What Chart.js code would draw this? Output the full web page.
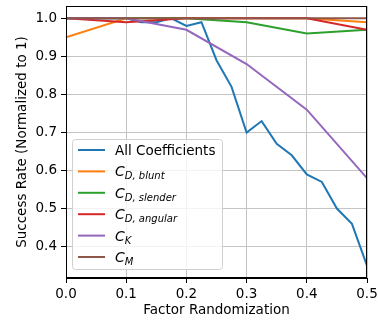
<!DOCTYPE html>
<html>
<head>
<meta charset="utf-8">
<script src="https://cdn.jsdelivr.net/npm/chart.js@4"></script>
<style>
  html, body { margin: 0; padding: 0; background: #fff; }
  #wrap { width: 378px; height: 325px; position: relative; }
</style>
</head>
<body>
<div id="wrap"><canvas id="successChart" width="378" height="325"></canvas></div>
<script>
// x positions
const fineSteps = [0, 0.025, 0.05, 0.075, 0.1, 0.125, 0.15, 0.175, 0.2, 0.225, 0.25,
                   0.275, 0.3, 0.325, 0.35, 0.375, 0.4, 0.425, 0.45, 0.475, 0.5];
const coarseSteps = [0, 0.1, 0.2, 0.3, 0.4, 0.5];

// series values
const allCoeffs = [1.0, 1.0, 1.0, 1.0, 1.0, 0.99, 0.99, 1.0, 0.98, 0.99, 0.89,
                   0.82, 0.70, 0.73, 0.67, 0.64, 0.59, 0.57, 0.50, 0.46, 0.35];
const cdBlunt = [0.95, 1.0, 1.0, 1.0, 1.0, 0.99];
const cdSlender = [1.0, 1.0, 1.0, 0.99, 0.96, 0.97];
const cdAngular = [1.0, 0.99, 1.0, 1.0, 1.0, 0.97];
const cK = [1.0, 1.0, 0.97, 0.88, 0.76, 0.58];
const cM = [1.0, 1.0, 1.0, 1.0, 1.0, 1.0];

const yTicks = [0.4, 0.5, 0.6, 0.7, 0.8, 0.9, 1.0];
const xTicks = [0, 0.1, 0.2, 0.3, 0.4, 0.5];

// legend entries: [main, subscript, italic]
const legendItems = [
    ['All Coefficients', '', false],
    ['C', 'D, blunt', true],
    ['C', 'D, slender', true],
    ['C', 'D, angular', true],
    ['C', 'K', true],
    ['C', 'M', true]
];
const colors = ['#1f77b4', '#ff7f0e', '#2ca02c', '#d62728', '#9467bd', '#8c564b'];

const toPoints = (xs, ys) => xs.map((x, i) => ({x: x, y: ys[i]}));

const seriesList = [
    toPoints(fineSteps, allCoeffs),
    toPoints(coarseSteps, cdBlunt),
    toPoints(coarseSteps, cdSlender),
    toPoints(coarseSteps, cdAngular),
    toPoints(coarseSteps, cK),
    toPoints(coarseSteps, cM)
];

const FONT = "'DejaVu Sans', sans-serif";
const FS = 13.5;

// drop the extra padding chart.js adds for edge labels
const noPad = (s) => {
    s.paddingTop = 0;
    s.paddingBottom = 0;
    s.paddingLeft = 0;
    s.paddingRight = 0;
};

// frame around plot + matplotlib style legend
const framePlugin = {
    id: 'frame',
    afterDatasetsDraw(chart) {
        const ctx = chart.ctx;
        const a = chart.chartArea;
        ctx.save();
        ctx.strokeStyle = '#000';
        ctx.lineWidth = 1;
        ctx.strokeRect(a.left + 0.5, a.top + 0.5, a.right - a.left - 1, a.bottom - a.top - 1);

        // legend box
        const bx = 72.5, by = 139.5, bw = 150, bh = 130, r = 3;
        ctx.beginPath();
        ctx.moveTo(bx + r, by);
        ctx.arcTo(bx + bw, by, bx + bw, by + bh, r);
        ctx.arcTo(bx + bw, by + bh, bx, by + bh, r);
        ctx.arcTo(bx, by + bh, bx, by, r);
        ctx.arcTo(bx, by, bx + bw, by, r);
        ctx.closePath();
        ctx.fillStyle = 'rgba(255,255,255,0.8)';
        ctx.fill();
        ctx.strokeStyle = '#d0d0d0';
        ctx.stroke();

        legendItems.forEach((item, i) => {
            const cy = 150 + i * 21.4;
            ctx.strokeStyle = colors[i];
            ctx.lineWidth = 2;
            ctx.beginPath();
            ctx.moveTo(78, cy);
            ctx.lineTo(105, cy);
            ctx.stroke();

            ctx.fillStyle = '#000';
            ctx.textBaseline = 'alphabetic';
            ctx.textAlign = 'left';
            if (!item[2]) {
                ctx.font = FS + 'px ' + FONT;
                ctx.fillText(item[0], 115, cy + 5);
            } else {
                ctx.font = 'italic 14px ' + FONT;
                ctx.fillText(item[0], 115, cy + 5);
                const w = ctx.measureText(item[0]).width;
                ctx.font = 'italic 10px ' + FONT;
                ctx.fillText(item[1], 115 + w, cy + 8);
            }
        });
        ctx.restore();
    }
};

const config = {
    type: 'scatter',
    data: {
        datasets: seriesList.map((pts, i) => ({
            data: pts,
            showLine: true,
            borderColor: colors[i],
            backgroundColor: colors[i],
            borderWidth: 2,
            pointRadius: 0,
            tension: 0,
            order: 5 - i
        }))
    },
    options: {
        responsive: false,
        animation: false,
        layout: {padding: {left: 0, right: 11, top: 6, bottom: 0}},
        plugins: {
            legend: {display: false},
            tooltip: {enabled: false}
        },
        scales: {
            x: {
                type: 'linear',
                min: 0,
                max: 0.5,
                afterBuildTicks: (s) => { s.ticks = xTicks.map(v => ({value: v})); },
                afterFit: (s) => { s.height = 47; noPad(s); },
                ticks: {
                    color: '#000',
                    font: {family: FONT, size: FS},
                    padding: 3,
                    maxRotation: 0,
                    callback: (v) => v.toFixed(1)
                },
                grid: {color: '#c4c4c4', tickColor: '#000', tickLength: 5, lineWidth: 1},
                border: {color: '#000'},
                title: {
                    display: true,
                    text: 'Factor Randomization',
                    color: '#000',
                    font: {family: FONT, size: FS},
                    padding: {top: 0, bottom: 6}
                }
            },
            y: {
                type: 'linear',
                min: 0.3175,
                max: 1.0325,
                afterBuildTicks: (s) => { s.ticks = yTicks.map(v => ({value: v})); },
                afterFit: (s) => { s.width = 66; noPad(s); },
                ticks: {
                    color: '#000',
                    font: {family: FONT, size: FS},
                    padding: 4,
                    callback: (v) => v.toFixed(1)
                },
                grid: {color: '#c4c4c4', tickColor: '#000', tickLength: 5, lineWidth: 1},
                border: {color: '#000'},
                title: {
                    display: true,
                    text: 'Success Rate (Normalized to 1)',
                    color: '#000',
                    font: {family: FONT, size: FS},
                    padding: {top: 14, bottom: 0}
                }
            }
        }
    },
    plugins: [framePlugin]
};

var successChart = new Chart(document.getElementById('successChart'), config);
</script>
</body>
</html>
